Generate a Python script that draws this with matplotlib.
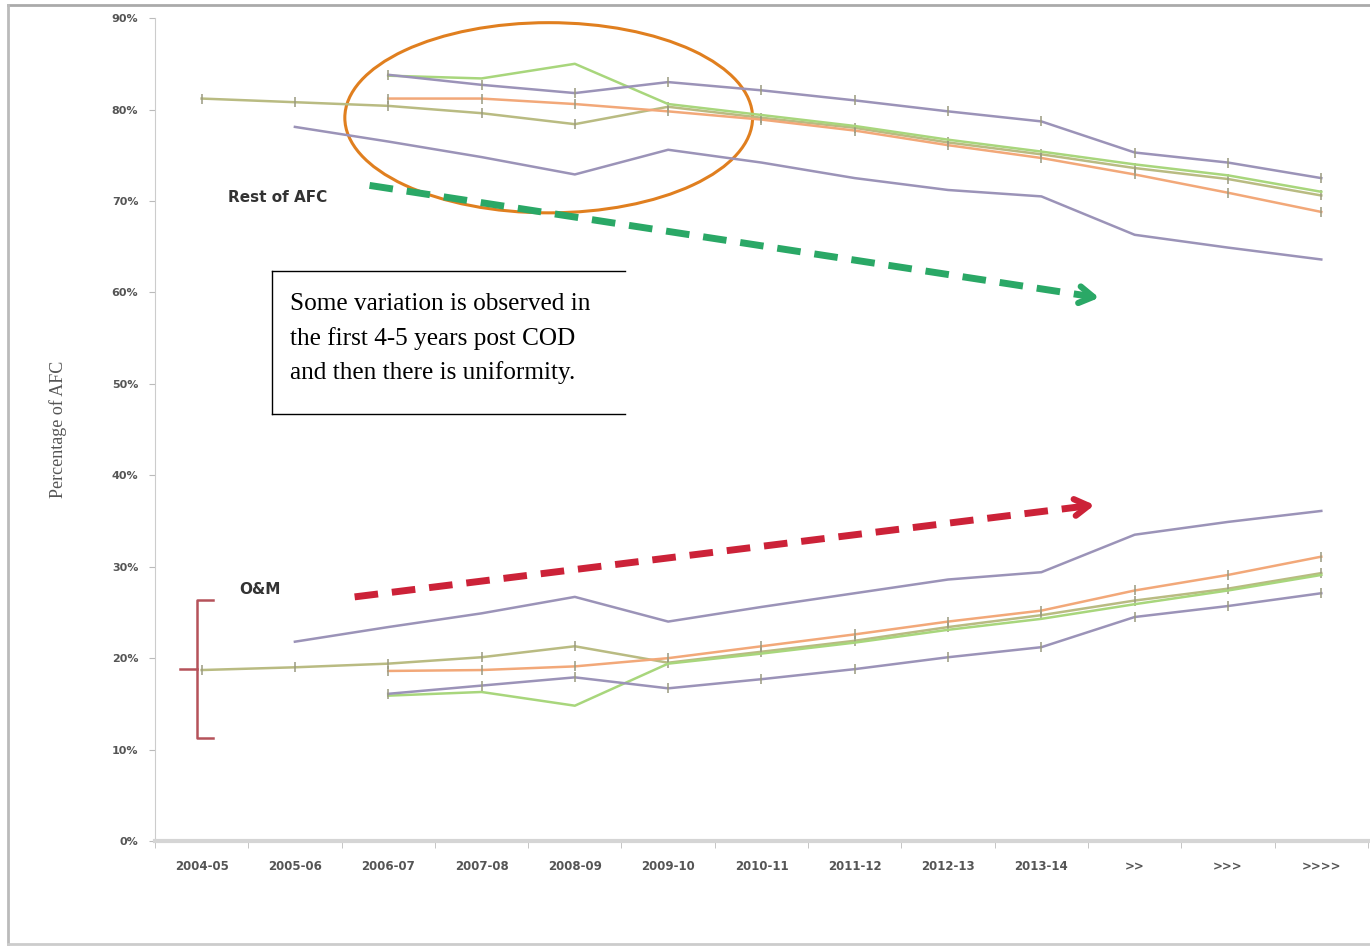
import matplotlib
matplotlib.use("Agg")
import matplotlib.pyplot as plt
from matplotlib.patches import Ellipse
from matplotlib.lines import Line2D
import numpy as np

years = ["2004-05", "2005-06", "2006-07", "2007-08", "2008-09", "2009-10",
         "2010-11", "2011-12", "2012-13", "2013-14", ">>", ">>>", ">>>>"]
nan = np.nan

# Rest of AFC (% of AFC)
rest_purple_top = [nan, nan, 83.8, 82.7, 81.8, 83.0, 82.1, 81.0, 79.8, 78.7, 75.3, 74.2, 72.5]
rest_olive = [81.2, 80.8, 80.4, 79.6, 78.4, 80.3, 79.1, 78.0, 76.4, 75.1, 73.6, 72.4, 70.6]
rest_green = [nan, nan, 83.7, 83.4, 85.0, 80.6, 79.4, 78.2, 76.7, 75.4, 74.0, 72.8, 71.0]
rest_orange = [nan, nan, 81.2, 81.2, 80.6, 79.8, 78.9, 77.7, 76.1, 74.7, 72.9, 70.9, 68.8]
rest_purple_low = [nan, 78.1, 76.5, 74.8, 72.9, 75.6, 74.2, 72.5, 71.2, 70.5, 66.3, 64.9, 63.6]

# O&M (% of AFC)
om_purple_top = [nan, 21.8, 23.4, 24.9, 26.7, 24.0, 25.6, 27.1, 28.6, 29.4, 33.5, 34.9, 36.1]
om_olive = [18.7, 19.0, 19.4, 20.1, 21.3, 19.5, 20.7, 21.9, 23.4, 24.7, 26.3, 27.6, 29.3]
om_orange = [nan, nan, 18.6, 18.7, 19.1, 20.0, 21.3, 22.6, 24.0, 25.2, 27.4, 29.1, 31.1]
om_green = [nan, nan, 15.9, 16.3, 14.8, 19.4, 20.5, 21.7, 23.1, 24.3, 25.9, 27.4, 29.1]
om_purple_low = [nan, nan, 16.1, 17.0, 17.9, 16.7, 17.7, 18.8, 20.1, 21.2, 24.5, 25.7, 27.1]

purple = "#9b93b8"
olive = "#b9bb82"
green = "#a8d67c"
orange = "#f2a879"

fig = plt.figure(figsize=(13.7, 9.47), dpi=100)
ax = fig.add_axes([0.1131, 0.1119, 0.8854, 0.869])
x = np.arange(len(years))

series = [
    (rest_purple_low, purple, None), (rest_olive, olive, "|"), (rest_orange, orange, "|"),
    (rest_green, green, None), (rest_purple_top, purple, "|"),
    (om_purple_top, purple, None), (om_olive, olive, "|"), (om_orange, orange, "|"),
    (om_green, green, None), (om_purple_low, purple, "|"),
]
for vals, c, m in series:
    ax.plot(x, vals, color=c, lw=1.8, marker=m, ms=7, mec="#9a9a80", mew=1.1)

ax.set_xlim(-0.5, len(years) - 0.5)
ax.set_ylim(0, 90)
ax.set_yticks(np.arange(0, 91, 10))
ax.set_yticklabels([f"{v}%" for v in range(0, 91, 10)], fontsize=8, color="#555555",
                   fontweight="bold")
ax.set_xticks(x)
ax.set_xticklabels(years, fontsize=8.5, color="#555555", fontweight="bold")
ax.set_xticks(np.arange(-0.5, len(years), 1), minor=True)
ax.tick_params(axis="x", which="major", length=0, pad=14)
ax.tick_params(axis="x", which="minor", length=5, color="#bbbbbb")
ax.tick_params(axis="y", length=4, color="#bbbbbb", pad=8)
for s in ["top", "right"]:
    ax.spines[s].set_visible(False)
ax.spines["left"].set_color("#cccccc")
ax.spines["bottom"].set_color("#d5d5d5")
ax.spines["bottom"].set_linewidth(3)
ax.set_ylabel("Percentage of AFC", fontsize=13, family="Liberation Serif",
              color="#555555", labelpad=32)

# ellipse highlight
ax.add_patch(Ellipse((3.72, 79.1), 4.37, 20.8, fill=False, ec="#e07f1f", lw=2.2))

# dashed trend arrows: dashed shaft + solid open head
def trend_arrow(x0, y0, x1, y1, col):
    ax.plot([x0, x1], [y0, y1], color=col, lw=5, ls=(0, (3.4, 2.0)),
            dash_capstyle="butt")
    ax.annotate("", xy=(x1 + 0.12, y1 + (y1 - y0) / (x1 - x0) * 0.12), xytext=(x1, y1),
                arrowprops=dict(arrowstyle="->,head_length=1.0,head_width=0.6",
                                color=col, lw=4.5, shrinkA=0, shrinkB=0))

trend_arrow(1.80, 71.7, 9.50, 59.6, "#2aa866")
trend_arrow(1.64, 26.7, 9.45, 36.6, "#cc2238")

ax.text(0.28, 70.4, "Rest of AFC", fontsize=11, fontweight="bold", color="#333333",
        va="center")
ax.text(0.4, 27.5, "O&M", fontsize=11, fontweight="bold", color="#333333", va="center")

# bracket
bc = "#b5525a"
ax.plot([0.12, -0.05, -0.05, 0.12], [26.4, 26.4, 11.3, 11.3], color=bc, lw=1.8)
ax.plot([-0.23, -0.05], [18.8, 18.8], color=bc, lw=1.8)

# text box (open on the right)
box = dict(color="black", lw=1.0)
fig.add_artist(Line2D([0.1985, 0.4562], [0.7138, 0.7138], **box))
fig.add_artist(Line2D([0.1985, 0.4562], [0.5628, 0.5628], **box))
fig.add_artist(Line2D([0.1985, 0.1985], [0.5628, 0.7138], **box))
fig.text(0.2117, 0.6425, "Some variation is observed in\nthe first 4-5 years post COD\n"
         "and then there is uniformity.", fontsize=18.2, family="Liberation Serif",
         va="center", ha="left", linespacing=1.65)

# outer frame
fig.add_artist(Line2D([0.006, 1.0], [0.995, 0.995], color="#aaaaaa", lw=2))
fig.add_artist(Line2D([0.006, 0.006], [0.003, 0.995], color="#bbbbbb", lw=2))
fig.add_artist(Line2D([0.006, 1.0], [0.003, 0.003], color="#cccccc", lw=2))

fig.savefig("out.png", dpi=100)
